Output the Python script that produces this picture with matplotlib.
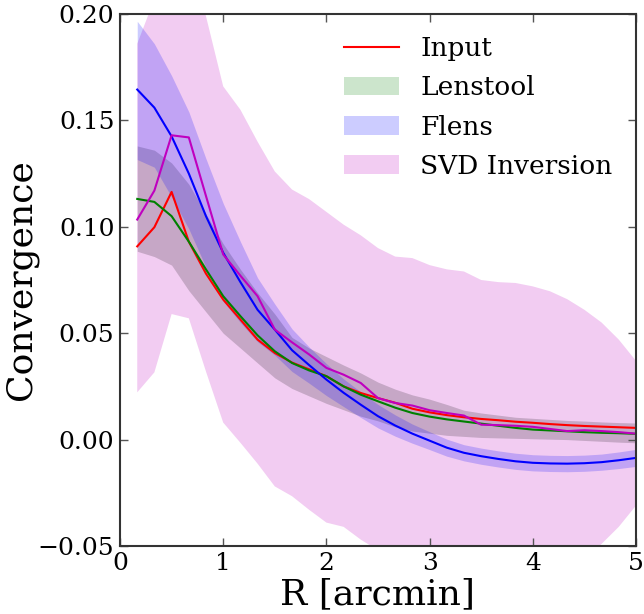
import matplotlib
matplotlib.use("Agg")
import matplotlib.pyplot as plt
from matplotlib.lines import Line2D
from matplotlib.patches import Patch

plt.rcParams["font.family"] = "DejaVu Serif"
plt.rcParams["mathtext.fontset"] = "dejavuserif"

# radius bins [arcmin]
R = [0.167, 0.333, 0.500, 0.667, 0.833, 1.000, 1.167, 1.333, 1.500, 1.667,
     1.833, 2.000, 2.167, 2.333, 2.500, 2.667, 2.833, 3.000, 3.167, 3.333,
     3.500, 3.667, 3.833, 4.000, 4.167, 4.333, 4.500, 4.667, 4.833, 5.000]

kappa_input = [0.0908, 0.0998, 0.1164, 0.0930, 0.0780, 0.0658, 0.0564, 0.0470, 0.0407, 0.0362,
               0.0330, 0.0298, 0.0250, 0.0219, 0.0195, 0.0173, 0.0145, 0.0128, 0.0115, 0.0105,
               0.0097, 0.0091, 0.0084, 0.0079, 0.0073, 0.0068, 0.0064, 0.0061, 0.0058, 0.0055]

kappa_lenstool = [0.1131, 0.1117, 0.1050, 0.0930, 0.0800, 0.0674, 0.0580, 0.0490, 0.0415, 0.0360,
                  0.0325, 0.0298, 0.0250, 0.0211, 0.0180, 0.0150, 0.0125, 0.0108, 0.0095, 0.0085,
                  0.0075, 0.0065, 0.0055, 0.0047, 0.0043, 0.0039, 0.0035, 0.0032, 0.0030, 0.0027]
lenstool_lo = [0.0885, 0.0860, 0.0820, 0.0700, 0.0600, 0.0500, 0.0430, 0.0360, 0.0290, 0.0240,
               0.0205, 0.0170, 0.0140, 0.0110, 0.0088, 0.0060, 0.0040, 0.0030, 0.0020, 0.0015,
               0.0010, 0.0008, 0.0006, 0.0004, 0.0002, 0.0000, -0.0004, -0.0008, -0.0012, -0.0015]
lenstool_hi = [0.1380, 0.1360, 0.1300, 0.1200, 0.1060, 0.0920, 0.0800, 0.0690, 0.0590, 0.0480,
               0.0430, 0.0390, 0.0350, 0.0313, 0.0270, 0.0237, 0.0210, 0.0190, 0.0165, 0.0138,
               0.0125, 0.0115, 0.0105, 0.0100, 0.0095, 0.0090, 0.0087, 0.0083, 0.0080, 0.0078]

kappa_flens = [0.1645, 0.1560, 0.1425, 0.1250, 0.1050, 0.0878, 0.0740, 0.0610, 0.0517, 0.0420,
               0.0350, 0.0282, 0.0220, 0.0164, 0.0110, 0.0066, 0.0028, -0.0005, -0.0038, -0.0062,
               -0.0078, -0.0091, -0.0102, -0.0109, -0.0112, -0.0113, -0.0111, -0.0106, -0.0097, -0.0086]
flens_lo = [0.1316, 0.1280, 0.1140, 0.0990, 0.0810, 0.0650, 0.0550, 0.0460, 0.0397, 0.0320,
            0.0265, 0.0207, 0.0155, 0.0104, 0.0055, 0.0016, -0.0017, -0.0047, -0.0078, -0.0100,
            -0.0116, -0.0129, -0.0140, -0.0147, -0.0150, -0.0151, -0.0149, -0.0144, -0.0136, -0.0126]
flens_hi = [0.1966, 0.1860, 0.1710, 0.1540, 0.1320, 0.1110, 0.0930, 0.0760, 0.0637, 0.0520,
            0.0435, 0.0357, 0.0285, 0.0224, 0.0165, 0.0116, 0.0073, 0.0037, 0.0002, -0.0024,
            -0.0040, -0.0053, -0.0064, -0.0071, -0.0074, -0.0075, -0.0073, -0.0068, -0.0058, -0.0046]

kappa_svd = [0.1034, 0.1170, 0.1430, 0.1420, 0.1145, 0.0870, 0.0770, 0.0674, 0.0517, 0.0457,
             0.0400, 0.0337, 0.0305, 0.0266, 0.0195, 0.0172, 0.0160, 0.0138, 0.0125, 0.0113,
             0.0070, 0.0068, 0.0065, 0.0060, 0.0050, 0.0040, 0.0044, 0.0040, 0.0035, 0.0028]
svd_lo = [0.0222, 0.0316, 0.0590, 0.0570, 0.0320, 0.0080, -0.0015, -0.0113, -0.0220, -0.0266,
          -0.0330, -0.0390, -0.0410, -0.0470, -0.0520, -0.0580, -0.0620, -0.0650, -0.0670, -0.0680,
          -0.0690, -0.0690, -0.0680, -0.0660, -0.0630, -0.0590, -0.0560, -0.0490, -0.0410, -0.0310]
svd_hi = [0.1860, 0.2070, 0.2300, 0.2250, 0.1990, 0.1660, 0.1550, 0.1400, 0.1260, 0.1175,
          0.1130, 0.1070, 0.1010, 0.0960, 0.0900, 0.0860, 0.0853, 0.0820, 0.0800, 0.0790,
          0.0750, 0.0740, 0.0736, 0.0720, 0.0697, 0.0660, 0.0610, 0.0550, 0.0470, 0.0370]

fig = plt.figure(figsize=(6.44, 6.14), dpi=100)
ax = fig.add_axes([120 / 644, 68 / 614, 516 / 644, 532 / 614])

ax.fill_between(R, svd_lo, svd_hi, color="m", alpha=0.2, lw=0)
ax.fill_between(R, lenstool_lo, lenstool_hi, color="k", alpha=0.18, lw=0)
ax.fill_between(R, flens_lo, flens_hi, color="b", alpha=0.2, lw=0)

ax.plot(R, kappa_input, color="r", lw=1.5)
ax.plot(R, kappa_lenstool, color="g", lw=1.5)
ax.plot(R, kappa_flens, color="b", lw=1.5)
ax.plot(R, kappa_svd, color="m", lw=1.5)

ax.set_xlim(0, 5)
ax.set_ylim(-0.05, 0.20)
ax.set_xticks([0, 1, 2, 3, 4, 5])
ax.set_yticks([-0.05, 0.0, 0.05, 0.10, 0.15, 0.20])
ax.set_yticklabels(["\u22120.05", "0.00", "0.05", "0.10", "0.15", "0.20"])
ax.tick_params(direction="in", length=6, width=1, color="#555555",
               top=True, right=True, labelsize=18, pad=4)
for s in ax.spines.values():
    s.set_linewidth(1.5)
    s.set_color("#333333")

ax.set_xlabel("R [arcmin]", fontsize=26, labelpad=2)
ax.set_ylabel("Convergence", fontsize=26, labelpad=0)

handles = [
    Line2D([], [], color="r", lw=1.5),
    Patch(facecolor="g", alpha=0.2, lw=0),
    Patch(facecolor="b", alpha=0.2, lw=0),
    Patch(facecolor="m", alpha=0.2, lw=0),
]
ax.legend(handles, ["Input", "Lenstool", "Flens", "SVD Inversion"],
          loc="upper right", frameon=False, fontsize=19, handlelength=2.1,
          handletextpad=0.8, borderaxespad=0.2, labelspacing=0.54,
          bbox_to_anchor=(0.985, 0.988))

fig.savefig("out.png", dpi=100)
